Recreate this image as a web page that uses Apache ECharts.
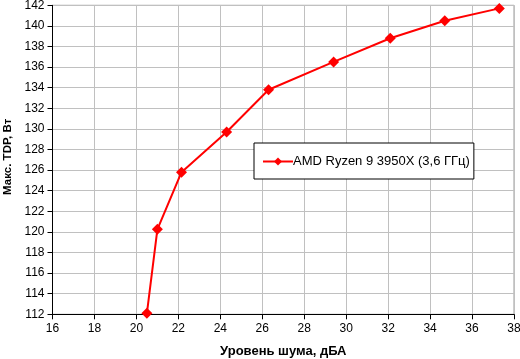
<!DOCTYPE html>
<html><head><meta charset="utf-8">
<script src="https://cdn.jsdelivr.net/npm/echarts@6/dist/echarts.min.js"></script>
<style>html,body{margin:0;padding:0;background:#fff}#c{width:520px;height:359px}</style>
</head><body><div id="c"></div>
<script>
const seriesName = 'AMD Ryzen 9 3950X (3,6 ГГц)';
const noise = [20.5, 21.0, 22.15, 24.3, 26.3, 29.4, 32.1, 34.7, 37.3];
const tdp = [112.1, 120.25, 125.8, 129.7, 133.8, 136.5, 138.8, 140.5, 141.7];
const xTitle = 'Уровень шума, дБА';
const yTitle = 'Макс. TDP, Вт';

const chart = echarts.init(document.getElementById('c'), null, {renderer: 'canvas'});
const font = 'Liberation Sans, Arial, sans-serif';
chart.setOption({
  animation: false,
  backgroundColor: '#fff',
  grid: {left: 52.5, right: 6, top: 5.3, bottom: 44.7, show: true, borderColor: '#9a9a9a', borderWidth: 1,
         containLabel: false, outerBoundsMode: 'none'},
  xAxis: {
    type: 'value', min: 16, max: 38, interval: 2,
    name: xTitle, nameLocation: 'middle', nameGap: 31,
    nameTextStyle: {fontFamily: font, fontSize: 13, fontWeight: 'bold', color: '#000'},
    axisLine: {show: true, lineStyle: {color: '#000', width: 1}},
    axisTick: {show: true, length: 5, lineStyle: {color: '#000'}},
    axisLabel: {fontFamily: font, fontSize: 12, color: '#000', margin: 8},
    splitLine: {show: true, lineStyle: {color: '#c0c0c0', width: 1}}
  },
  yAxis: {
    type: 'value', min: 112, max: 142, interval: 2,
    name: yTitle, nameLocation: 'middle', nameGap: 37, nameRotate: 90,
    nameTextStyle: {fontFamily: font, fontSize: 11.5, fontWeight: 'bold', color: '#000', padding: [0, 0, 0, 6]},
    axisLine: {show: true, lineStyle: {color: '#000', width: 1}},
    axisTick: {show: true, length: 5, lineStyle: {color: '#000'}},
    axisLabel: {fontFamily: font, fontSize: 12, color: '#000', margin: 8},
    splitLine: {show: true, lineStyle: {color: '#c0c0c0', width: 1}}
  },
  legend: {
    show: true, left: 254, top: 143,
    orient: 'vertical',
    padding: [12, 4, 11, 8],
    borderColor: '#000', borderWidth: 1, backgroundColor: '#fff',
    itemWidth: 30, itemHeight: 10, itemGap: 0,
    textStyle: {fontFamily: font, fontSize: 13, color: '#000', padding: [0, 0, 0, -5]},
    data: [{name: seriesName}]
  },
  series: [{
    name: seriesName, type: 'line',
    data: noise.map((x, i) => [x, tdp[i]]),
    symbol: 'diamond', symbolSize: 11,
    clip: false,
    lineStyle: {color: '#ff0000', width: 2},
    itemStyle: {color: '#ff0000'}
  }]
});
</script></body></html>
